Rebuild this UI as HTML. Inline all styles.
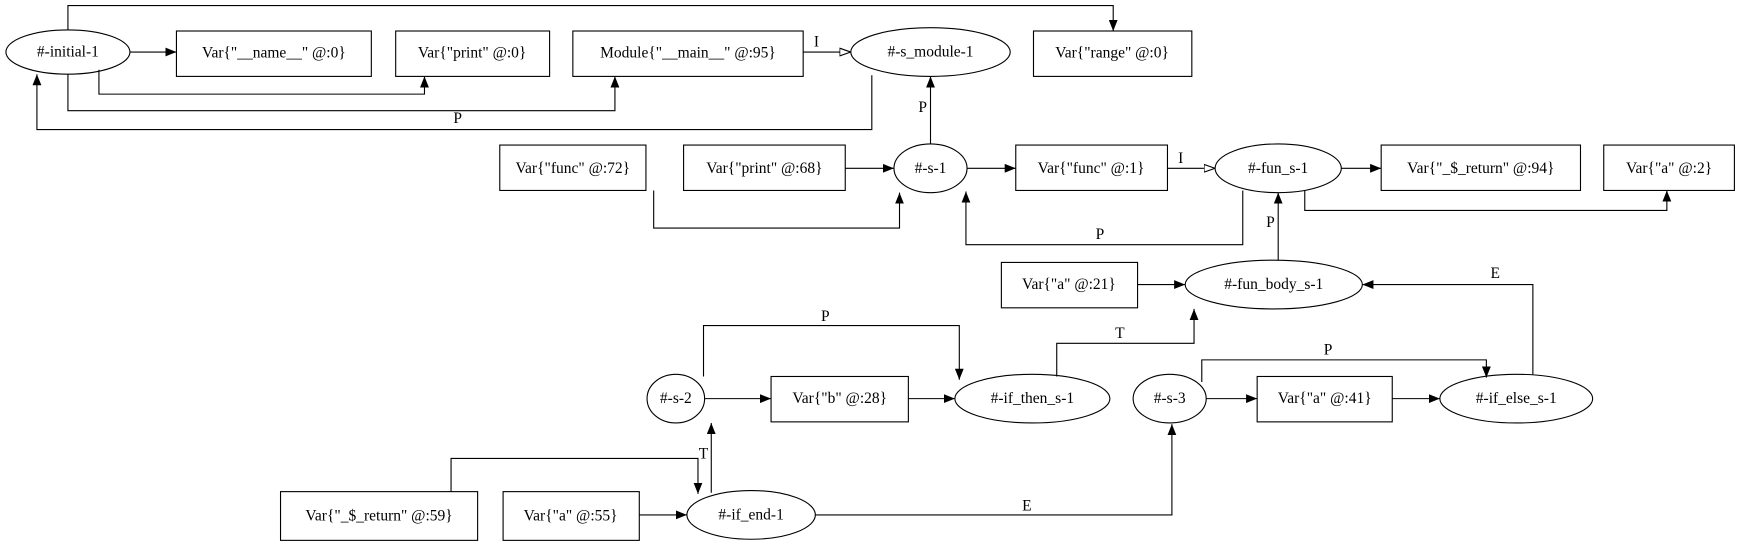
<!DOCTYPE html>
<html><head><meta charset="utf-8"><style>html,body{margin:0;padding:0;background:#fff}svg{display:block}</style></head>
<body>
<svg width="1737" height="547" viewBox="0 0 1568 494" xmlns="http://www.w3.org/2000/svg" font-family="Liberation Serif, serif" font-size="14">
<defs>
<marker id="a" markerWidth="10" markerHeight="8" refX="10" refY="4" orient="auto" markerUnits="userSpaceOnUse"><path d="M0,0 L10,4 L0,8 z" fill="#000"/></marker>
<marker id="o" markerWidth="10" markerHeight="8" refX="10" refY="4" orient="auto" markerUnits="userSpaceOnUse"><path d="M0,0.5 L10,4 L0,7.5 z" fill="#fff" stroke="#000"/></marker>
</defs>
<g fill="none" stroke="#000" stroke-width="1">
<ellipse cx="61" cy="47" rx="56" ry="20"/>
<rect x="159" y="28" width="176" height="41"/>
<rect x="357" y="28" width="139" height="41"/>
<rect x="517" y="28" width="208" height="41"/>
<ellipse cx="840" cy="47" rx="72" ry="22"/>
<rect x="933" y="28" width="143" height="41"/>
<rect x="451" y="131" width="132" height="41"/>
<rect x="617" y="131" width="146" height="41"/>
<ellipse cx="840" cy="152" rx="33" ry="22"/>
<rect x="917" y="131" width="137" height="41"/>
<ellipse cx="1154" cy="152" rx="57" ry="22"/>
<rect x="1247" y="131" width="180" height="41"/>
<rect x="1448" y="131" width="118" height="41"/>
<rect x="904" y="237" width="123" height="41"/>
<ellipse cx="1150" cy="257" rx="80" ry="22"/>
<ellipse cx="610" cy="360" rx="26" ry="22"/>
<rect x="696" y="340" width="124" height="41"/>
<ellipse cx="932" cy="360" rx="70" ry="22"/>
<ellipse cx="1056" cy="360" rx="33" ry="22"/>
<rect x="1135" y="340" width="122" height="41"/>
<ellipse cx="1369" cy="360" rx="69" ry="22"/>
<rect x="253" y="444" width="178" height="44"/>
<rect x="454" y="444" width="123" height="44"/>
<ellipse cx="678" cy="465" rx="58" ry="22"/>

<path d="M117,47 H159" marker-end="url(#a)"/>
<path d="M61,27 V5 H1005 V28" marker-end="url(#a)"/>
<path d="M89,63 V85 H383 V69" marker-end="url(#a)"/>
<path d="M61,67 V100 H555 V69" marker-end="url(#a)"/>
<path d="M787,68 V117 H33 V67" marker-end="url(#a)"/>
<path d="M725,47 H768" marker-end="url(#o)"/>
<path d="M840,130 V69" marker-end="url(#a)"/>
<path d="M763,152 H807" marker-end="url(#a)"/>
<path d="M590,172 V206 H812 V174" marker-end="url(#a)"/>
<path d="M873,152 H917" marker-end="url(#a)"/>
<path d="M1054,152 H1097" marker-end="url(#o)"/>
<path d="M1211,152 H1247" marker-end="url(#a)"/>
<path d="M1178,172 V190 H1505 V172" marker-end="url(#a)"/>
<path d="M1122,172 V221 H872 V173" marker-end="url(#a)"/>
<path d="M1154,235 V174" marker-end="url(#a)"/>
<path d="M1027,257 H1070" marker-end="url(#a)"/>
<path d="M1384,338 V257 H1230" marker-end="url(#a)"/>
<path d="M954,340 V310 H1078 V279" marker-end="url(#a)"/>
<path d="M635,340 V294 H866 V343" marker-end="url(#a)"/>
<path d="M636,360 H696" marker-end="url(#a)"/>
<path d="M820,360 H862" marker-end="url(#a)"/>
<path d="M1089,360 H1135" marker-end="url(#a)"/>
<path d="M1257,360 H1300" marker-end="url(#a)"/>
<path d="M1085,345 V325 H1342 V341" marker-end="url(#a)"/>
<path d="M642,445 V382" marker-end="url(#a)"/>
<path d="M407,444 V414 H630 V446" marker-end="url(#a)"/>
<path d="M577,465 H620" marker-end="url(#a)"/>
<path d="M736,465 H1058 V383" marker-end="url(#a)"/>
</g>
<g fill="#000" text-anchor="middle" dominant-baseline="central">
<text x="61" y="47">#-initial-1</text>
<text x="247" y="48">Var{"__name__" @:0}</text>
<text x="426" y="48">Var{"print" @:0}</text>
<text x="621" y="48">Module{"__main__" @:95}</text>
<text x="840" y="47">#-s_module-1</text>
<text x="1004" y="48">Var{"range" @:0}</text>
<text x="517" y="152">Var{"func" @:72}</text>
<text x="690" y="152">Var{"print" @:68}</text>
<text x="840" y="152">#-s-1</text>
<text x="985" y="152">Var{"func" @:1}</text>
<text x="1154" y="152">#-fun_s-1</text>
<text x="1337" y="152">Var{"_$_return" @:94}</text>
<text x="1507" y="152">Var{"a" @:2}</text>
<text x="965" y="257">Var{"a" @:21}</text>
<text x="1150" y="257">#-fun_body_s-1</text>
<text x="610" y="360">#-s-2</text>
<text x="758" y="360">Var{"b" @:28}</text>
<text x="932" y="360">#-if_then_s-1</text>
<text x="1056" y="360">#-s-3</text>
<text x="1196" y="360">Var{"a" @:41}</text>
<text x="1369" y="360">#-if_else_s-1</text>
<text x="342" y="466">Var{"_$_return" @:59}</text>
<text x="515" y="466">Var{"a" @:55}</text>
<text x="678" y="465">#-if_end-1</text>
<text x="413" y="107">P</text>
<text x="737" y="38">I</text>
<text x="833" y="97">P</text>
<text x="1066" y="143">I</text>
<text x="993" y="212">P</text>
<text x="1147" y="201">P</text>
<text x="1350" y="247">E</text>
<text x="1011" y="301">T</text>
<text x="745" y="286">P</text>
<text x="1199" y="316">P</text>
<text x="635" y="410">T</text>
<text x="927" y="457">E</text>
</g>
</svg>
</body></html>
